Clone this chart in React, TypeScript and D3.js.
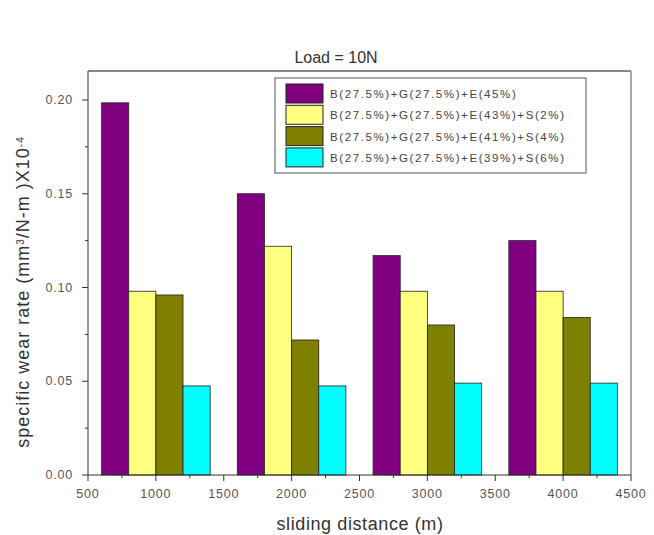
import React from "react";
import * as d3 from "d3";

const distances = [1000, 2000, 3000, 4000];
const seriesNames = [
  "B(27.5%)+G(27.5%)+E(45%)",
  "B(27.5%)+G(27.5%)+E(43%)+S(2%)",
  "B(27.5%)+G(27.5%)+E(41%)+S(4%)",
  "B(27.5%)+G(27.5%)+E(39%)+S(6%)",
];
const seriesOffsets = [-300, -100, 100, 300];
const s1 = [0.1985, 0.15, 0.117, 0.125];
const s2 = [0.098, 0.122, 0.098, 0.098];
const s3 = [0.096, 0.072, 0.08, 0.084];
const s4 = [0.0475, 0.0475, 0.049, 0.049];
const seriesValues = [s1, s2, s3, s4];
const colors = ["#800080", "#FFFF80", "#808000", "#00FFFF"];
const xTicks = [500, 1000, 1500, 2000, 2500, 3000, 3500, 4000, 4500];
const yTicks = [0, 0.05, 0.1, 0.15, 0.2];

export default function App() {
  const W = 654, H = 535;
  const L = 88, R = 631, T = 71, B = 475;
  const x = d3.scaleLinear().domain([500, 4500]).range([L, R]);
  const y = d3.scaleLinear().domain([0, 0.2]).range([B, B - 375]);
  const barW = x(700) - x(500);
  const minorX = d3.range(750, 4500, 500);
  const minorY = [0.025, 0.075, 0.125, 0.175];
  const font = "Arial, 'Liberation Sans', sans-serif";
  const tickColor = "#555";

  return (
    <svg width={W} height={H} style={{ position: "absolute", left: 0, top: 0 }} fontFamily={font}>
      <rect width={W} height={H} fill="#fff" />
      <text x={336} y={63} textAnchor="middle" fontSize={16} fill="#333">Load = 10N</text>
      {/* bars */}
      {seriesValues.map((vals, si) =>
        vals.map((v, i) => {
          const cx = distances[i] + seriesOffsets[si];
          return (
            <rect
              key={`${si}-${i}`}
              x={x(cx - 100)}
              y={y(v)}
              width={barW}
              height={B - y(v)}
              fill={colors[si]}
              stroke="#222"
              strokeWidth={0.8}
            />
          );
        })
      )}
      {/* frame */}
      <line x1={L} x2={R} y1={T} y2={T} stroke="#888" strokeWidth={2} />
      <line x1={R} x2={R} y1={T} y2={B} stroke="#888" strokeWidth={1.5} />
      <line x1={L} x2={L} y1={T} y2={B} stroke="#333" strokeWidth={1} />
      <line x1={L} x2={R} y1={B} y2={B} stroke="#333" strokeWidth={1} />
      {/* y ticks */}
      {yTicks.map((t) => (
        <g key={t}>
          <line x1={L - 6} x2={L} y1={y(t)} y2={y(t)} stroke="#333" />
          <text x={L - 15} y={y(t) + 4} textAnchor="end" fontSize={12.5} fill={tickColor} letterSpacing={0.8}>
            {t.toFixed(2)}
          </text>
        </g>
      ))}
      {minorY.map((t) => (
        <line key={t} x1={L - 3} x2={L} y1={y(t)} y2={y(t)} stroke="#333" />
      ))}
      {/* x ticks */}
      {xTicks.map((t) => (
        <g key={t}>
          <line x1={x(t)} x2={x(t)} y1={B} y2={B + 6} stroke="#333" />
          <text x={x(t)} y={B + 23} textAnchor="middle" fontSize={12.5} fill={tickColor} letterSpacing={0.8}>
            {t}
          </text>
        </g>
      ))}
      {minorX.map((t) => (
        <line key={t} x1={x(t)} x2={x(t)} y1={B} y2={B + 3} stroke="#333" />
      ))}
      {/* axis titles */}
      <text x={360} y={530} textAnchor="middle" fontSize={18} fill="#333" letterSpacing={0.6}>sliding distance (m)</text>
      <text transform="translate(29,292) rotate(-90)" textAnchor="middle" fontSize={18} fill="#333" letterSpacing={1}>
        specific wear rate (mm<tspan baselineShift="super" fontSize={10}>3</tspan>
        <tspan>/N-m )X10</tspan>
        <tspan baselineShift="super" fontSize={10}>-4</tspan>
      </text>
      {/* legend */}
      <rect x={275} y={78} width={311} height={95} fill="#fff" stroke="#555" strokeWidth={1} />
      {seriesNames.map((n, i) => (
        <g key={n}>
          <rect x={286} y={84 + i * 21.3} width={37} height={19} fill={colors[i]} stroke="#222" strokeWidth={1} />
          <text x={330} y={98 + i * 21.3} fontSize={11.5} fill="#444" letterSpacing={1.6}>
            {n}
          </text>
        </g>
      ))}
    </svg>
  );
}
